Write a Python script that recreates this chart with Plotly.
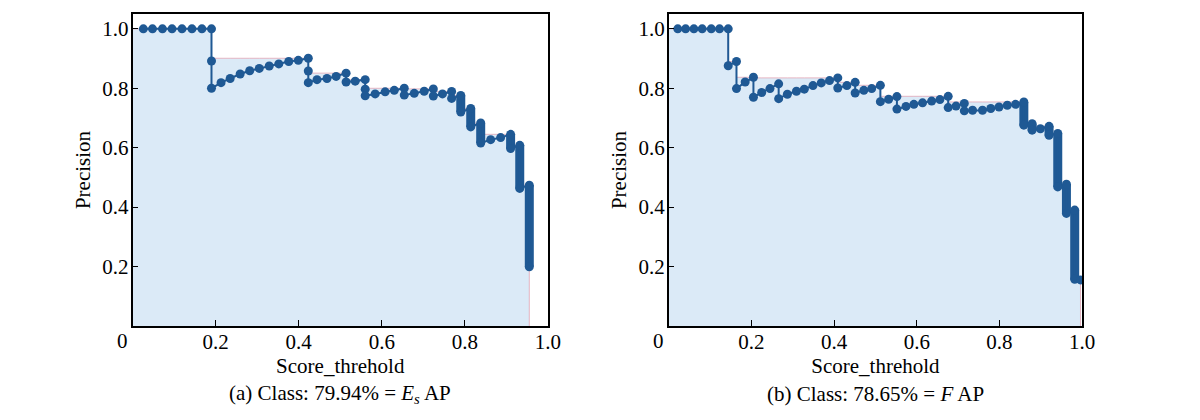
import numpy as np
import plotly.graph_objects as go

# ---- data ----
# (a) left panel: step-like precision curve
recall_a = [0.026, 0.048, 0.072, 0.095, 0.119, 0.143, 0.167, 0.19, 0.19, 0.19,
            0.213, 0.235, 0.259, 0.282, 0.305, 0.329, 0.352, 0.376, 0.399, 0.423,
            0.423, 0.423, 0.444, 0.468, 0.490, 0.514, 0.514, 0.536, 0.560, 0.560,
            0.560, 0.584, 0.608, 0.630, 0.654, 0.654, 0.678, 0.702, 0.724, 0.724,
            0.746, 0.768, 0.768, 0.790, 0.790, 0.814, 0.814, 0.838, 0.838, 0.862,
            0.886, 0.910, 0.910, 0.932, 0.932, 0.955, 0.955]
precision_a = [1.0, 1.0, 1.0, 1.0, 1.0, 1.0, 1.0, 1.0, 0.892, 0.80,
               0.819, 0.833, 0.848, 0.859, 0.867, 0.875, 0.882, 0.890, 0.894, 0.901,
               0.858, 0.819, 0.829, 0.833, 0.840, 0.851, 0.821, 0.824, 0.829, 0.797,
               0.775, 0.781, 0.788, 0.793, 0.800, 0.777, 0.783, 0.790, 0.798, 0.774,
               0.781, 0.789, 0.766, 0.776, 0.720, 0.732, 0.670, 0.683, 0.616, 0.627,
               0.634, 0.645, 0.597, 0.608, 0.463, 0.474, 0.199]
# dense vertical runs of markers (x, top, bottom)
run_x_a = [0.790, 0.814, 0.838, 0.910, 0.932, 0.955]
run_top_a = [0.776, 0.732, 0.683, 0.645, 0.608, 0.474]
run_bot_a = [0.720, 0.670, 0.616, 0.597, 0.463, 0.199]

# (b) right panel
recall_b = [0.022, 0.041, 0.061, 0.081, 0.103, 0.123, 0.144, 0.144, 0.164, 0.164,
            0.185, 0.205, 0.205, 0.225, 0.245, 0.266, 0.266, 0.287, 0.309, 0.328,
            0.349, 0.369, 0.389, 0.409, 0.409, 0.431, 0.451, 0.451, 0.472, 0.491,
            0.512, 0.512, 0.532, 0.552, 0.552, 0.574, 0.593, 0.614, 0.636, 0.656,
            0.676, 0.676, 0.695, 0.715, 0.715, 0.735, 0.759, 0.779, 0.799, 0.819,
            0.839, 0.859, 0.859, 0.879, 0.879, 0.899, 0.920, 0.920, 0.941, 0.941,
            0.962, 0.962, 0.982, 0.982, 0.996]
precision_b = [1.0, 1.0, 1.0, 1.0, 1.0, 1.0, 1.0, 0.876, 0.890, 0.799,
               0.821, 0.837, 0.770, 0.786, 0.799, 0.815, 0.765, 0.780, 0.790, 0.797,
               0.809, 0.818, 0.826, 0.835, 0.801, 0.809, 0.820, 0.784, 0.793, 0.799,
               0.810, 0.755, 0.763, 0.772, 0.730, 0.739, 0.746, 0.751, 0.757, 0.762,
               0.773, 0.735, 0.740, 0.749, 0.724, 0.726, 0.726, 0.732, 0.737, 0.743,
               0.746, 0.754, 0.676, 0.681, 0.659, 0.664, 0.672, 0.642, 0.648, 0.468,
               0.477, 0.379, 0.390, 0.157, 0.155]
run_x_b = [0.859, 0.879, 0.920, 0.941, 0.962, 0.982]
run_top_b = [0.754, 0.681, 0.672, 0.648, 0.477, 0.390]
run_bot_b = [0.676, 0.659, 0.642, 0.468, 0.379, 0.157]

captions = ["(a) Class: 79.94% = <i>E<sub>s</sub></i> AP",
            "(b) Class: 78.65% = <i>F</i> AP"]

x_ticks = [0.2, 0.4, 0.6, 0.8, 1.0]
y_ticks = [0.2, 0.4, 0.6, 0.8, 1.0]

FONT = "Liberation Serif"
FS = 21
DOT = "rgb(31,89,148)"
FILL = "rgb(219,234,247)"
EDGE = "rgba(225,165,180,0.8)"

W, H = 1200, 420


def px_x(sx):
    return sx / W


def px_y(sy):
    return (H - sy) / H


fig = go.Figure()


def add_panel(rec, prec, rx, rtop, rbot, xa, ya):
    rec = np.array(rec)
    prec = np.array(prec)
    # interpolated precision envelope (max precision to the right)
    env = np.maximum.accumulate(prec[::-1])[::-1]
    fx = [0.0] + list(rec) + [rec[-1]]
    fy = [env[0]] + list(env) + [0.0]
    fig.add_trace(go.Scatter(x=fx, y=fy, mode="lines", line_shape="vh",
                             line=dict(color=EDGE, width=1),
                             fill="tozeroy", fillcolor=FILL,
                             xaxis=xa, yaxis=ya, showlegend=False, hoverinfo="skip"))
    # thick vertical runs of overlapping markers
    vx, vy = [], []
    for x, t, b in zip(rx, rtop, rbot):
        vx += [x, x, None]
        vy += [t, b, None]
    fig.add_trace(go.Scatter(x=vx, y=vy, mode="lines",
                             line=dict(color=DOT, width=9),
                             xaxis=xa, yaxis=ya, showlegend=False, hoverinfo="skip"))
    fig.add_trace(go.Scatter(x=rec, y=prec, mode="lines+markers",
                             line=dict(color=DOT, width=2),
                             marker=dict(color=DOT, size=9),
                             xaxis=xa, yaxis=ya, showlegend=False))


add_panel(recall_a, precision_a, run_x_a, run_top_a, run_bot_a, "x", "y")
add_panel(recall_b, precision_b, run_x_b, run_top_b, run_bot_b, "x2", "y2")

axis_common = dict(showline=True, linecolor="black", linewidth=1.5, mirror=True,
                   ticks="inside", ticklen=6, tickwidth=1.2, tickcolor="black",
                   showgrid=False, zeroline=False, tickformat=".1f",
                   tickfont=dict(family=FONT, size=FS, color="black"))

doms = [(px_x(134), px_x(554)), (px_x(676), px_x(1094))]
ydom = [px_y(326), px_y(14)]

layout = dict(
    width=W, height=H,
    margin=dict(l=0, r=0, t=0, b=0),
    paper_bgcolor="white", plot_bgcolor="white",
    font=dict(family=FONT, size=FS, color="black"),
)
for i, (d0, d1) in enumerate(doms):
    sfx = "" if i == 0 else "2"
    layout["xaxis" + sfx] = dict(axis_common, domain=[d0, d1], range=[0, 1],
                                 tickvals=x_ticks, anchor="y" + sfx,
                                 ticklabelstandoff=-4,
                                 title=dict(text="Score_threhold", standoff=0,
                                            font=dict(family=FONT, size=FS)))
    layout["yaxis" + sfx] = dict(axis_common, domain=ydom, range=[0, 1.05],
                                 tickvals=y_ticks, anchor="x" + sfx,
                                 ticklabelstandoff=-2,
                                 title=dict(text="Precision", standoff=6,
                                            font=dict(family=FONT, size=FS)))
fig.update_layout(**layout)

annotations = []
for i, (d0, d1) in enumerate(doms):
    sfx = "" if i == 0 else "2"
    # shared origin label
    annotations.append(dict(x=0, y=0, xref="x" + sfx, yref="y" + sfx, text="0",
                            showarrow=False, xanchor="center", yanchor="top",
                            xshift=-10, yshift=-1,
                            font=dict(family=FONT, size=FS, color="black")))
    annotations.append(dict(x=(d0 + d1) / 2, y=px_y(394), xref="paper",
                            yref="paper", text=captions[i], showarrow=False,
                            xanchor="center", yanchor="middle",
                            font=dict(family=FONT, size=FS, color="black")))
fig.update_layout(annotations=annotations)

# drop the default page margin so the figure sits at the window's top-left corner
fig.write_html("out.html",
               config={"displayModeBar": False},
               post_script="document.body.style.margin='0';"
                           "document.body.style.overflow='hidden';")
